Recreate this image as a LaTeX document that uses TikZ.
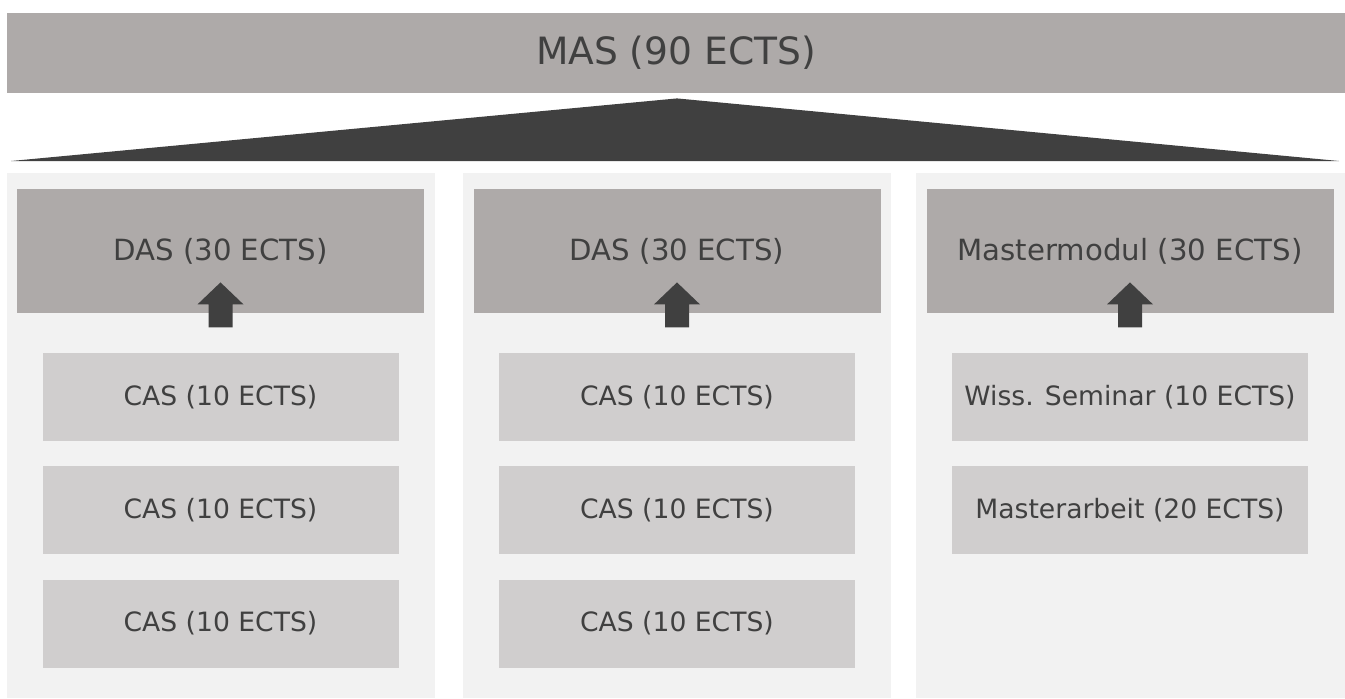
\documentclass[tikz,border=0pt]{standalone}
\usepackage{fontspec}
\setmainfont{DejaVu Sans}
\usetikzlibrary{positioning}
\definecolor{headgray}{HTML}{AEAAA9}
\definecolor{casgray}{HTML}{D0CECE}
\definecolor{colgray}{HTML}{F2F2F2}
\definecolor{inkgray}{HTML}{404040}
\begin{document}
\begin{tikzpicture}[x=0.5pt,y=-0.5pt,
  every node/.style={inner sep=0pt, text=inkgray},
  column/.style={fill=colgray, minimum width=214pt, minimum height=262.5pt},
  masbox/.style={fill=headgray, minimum width=669pt, minimum height=40pt,
    font=\fontsize{18.8}{22}\selectfont},
  dasbox/.style={fill=headgray, minimum width=203.5pt, minimum height=62pt,
    font=\fontsize{14.6}{18}\selectfont},
  casbox/.style={fill=casgray, minimum width=178pt, minimum height=44pt,
    font=\fontsize{13.3}{16}\selectfont},
  node distance=12.25pt]
  \useasboundingbox (0,0) rectangle (1345,698);
  % columns
  \node[column] (col1) at (221,435.5) {};
  \node[column] (col2) at (677,435.5) {};
  \node[column, minimum width=214.5pt] (col3) at (1130.5,435.5) {};
  % top
  \node[masbox] (mas) at (676,53) {MAS (90 ECTS)};
  \fill[inkgray] (mas.south) ++(1,5) -- (11,161) -- (1339,161) -- cycle;
  % diploma modules
  \node[dasbox] (das1) at (220.5,251) {DAS (30 ECTS)};
  \node[dasbox] (das2) at (677,251) {DAS (30 ECTS)};
  \node[dasbox] (das3) at (1130,251) {Mastermodul\,\,(30 ECTS)};
  % courses
  \node[casbox] (cas11) at (220.5,397) {CAS (10 ECTS)};
  \node[casbox, below=of cas11] (cas12) {CAS (10 ECTS)};
  \node[casbox, below=of cas12] (cas13) {CAS (10 ECTS)};
  \node[casbox] (cas21) at (677,397) {CAS (10 ECTS)};
  \node[casbox, below=of cas21] (cas22) {CAS (10 ECTS)};
  \node[casbox, below=of cas22] (cas23) {CAS (10 ECTS)};
  \node[casbox] (sem) at (1130,397) {Wiss. Seminar (10 ECTS)};
  \node[casbox, below=of sem] (ma) {Masterarbeit (20 ECTS)};
  % block arrows
  \foreach \d in {das1,das2,das3}
    \fill[inkgray] (\d.south) ++(0,-31) -- ++(23,22) -- ++(-11,0) -- ++(0,23)
      -- ++(-24,0) -- ++(0,-23) -- ++(-11,0) -- cycle;
\end{tikzpicture}
\end{document}
